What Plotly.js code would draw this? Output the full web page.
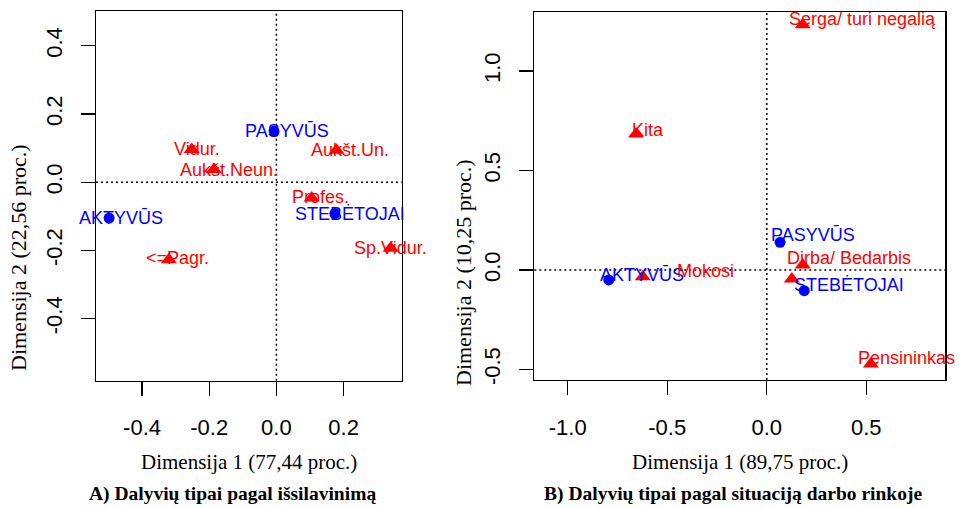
<!DOCTYPE html>
<html>
<head>
<meta charset="utf-8">
<script src="https://cdn.plot.ly/plotly-3.0.1.min.js"></script>
<style>html,body{margin:0;padding:0;background:#fff;}#chart{width:964px;height:508px;}</style>
</head>
<body>
<div id="chart"></div>
<script>
// ---- Panel A: education ----
const rowLabelsA = ["AKTYVŪS", "PASYVŪS", "STEBĖTOJAI"];
const rowXA = [-0.498, -0.007, 0.174];
const rowYA = [-0.105, 0.150, -0.092];
const colLabelsA = ["<=Pagr.", "Vidur.", "Sp.Vidur.", "Profes.", "Aukšt.Neun.", "Aukšt.Un."];
const colXA = [-0.320, -0.252, 0.340, 0.105, -0.186, 0.179];
const colYA = [-0.227, 0.096, -0.194, -0.046, 0.037, 0.094];

// ---- Panel B: labour market situation ----
const rowLabelsB = ["AKTYVŪS", "PASYVŪS", "STEBĖTOJAI"];
const rowXB = [-0.794, 0.067, 0.188];
const rowYB = [-0.050, 0.139, -0.104];
const colLabelsB = ["Dirba/ Bedarbis", "", "Mokosi", "Pensininkas", "Serga/ turi negalią", "Kita"];
const colXB = [0.181, 0.126, -0.623, 0.523, 0.181, -0.657];
const colYB = [0.025, -0.045, -0.034, -0.472, 1.233, 0.683];

// tick values / labels
const xTickValsA = [-0.4, -0.2, 0.0, 0.2];
const xTickTextA = ["-0.4", "-0.2", "0.0", "0.2"];
const yTickValsA = [-0.4, -0.2, 0.0, 0.2, 0.4];
const yTickTextA = ["-0.4", "-0.2", "0.0", "0.2", "0.4"];
const xTickValsB = [-1.0, -0.5, 0.0, 0.5];
const xTickTextB = ["-1.0", "-0.5", "0.0", "0.5"];
const yTickValsB = [-0.5, 0.0, 0.5, 1.0];
const yTickTextB = ["-0.5", "0.0", "0.5", "1.0"];

// text
const xTitleA = "Dimensija 1 (77,44 proc.)";
const yTitleA = "Dimensija 2 (22,56 proc.)";
const xTitleB = "Dimensija 1 (89,75 proc.)";
const yTitleB = "Dimensija 2 (10,25 proc.)";
const captionA = "A) Dalyvių tipai pagal išsilavinimą";
const captionB = "B) Dalyvių tipai pagal situaciją darbo rinkoje";

// label nudges in pixels (style only)
const rowShiftA = [[12, 0], [13, 0], [15, 0]];
const colShiftA = [[9, 2], [5, 0], [0, 0], [9, 1], [15, 0], [13, 0]];
const rowShiftB = [[33, 5], [33, 7], [45, 6]];
const colShiftB = [[46, 7], [0, 0], [63, 6], [36, 6], [60, 6], [12, 4]];

const W = 964, H = 508;
const BLUE = "#0000FF", RED = "#FF0000";
const SANS = "Liberation Sans, Arial, sans-serif";
const SERIF = "Liberation Serif, Times New Roman, serif";

function axisBase(extra) {
  return Object.assign({
    showgrid: false, zeroline: false, showline: true, mirror: true,
    linecolor: "#000", linewidth: 1.3,
    ticks: "outside", ticklen: 14, tickwidth: 1.3, tickcolor: "#000",
    tickfont: {family: SANS, size: 22, color: "#000"},
    tickmode: "array", fixedrange: true
  }, extra);
}

const traces = [
  {x: rowXA, y: rowYA, xaxis: "x", yaxis: "y", mode: "markers", type: "scatter",
   marker: {symbol: "circle", size: 11, color: BLUE}, cliponaxis: false, hoverinfo: "skip"},
  {x: colXA, y: colYA, xaxis: "x", yaxis: "y", mode: "markers", type: "scatter",
   marker: {symbol: "triangle-up", size: 14, color: RED}, cliponaxis: false, hoverinfo: "skip"},
  {x: rowXB, y: rowYB, xaxis: "x2", yaxis: "y2", mode: "markers", type: "scatter",
   marker: {symbol: "circle", size: 11, color: BLUE}, cliponaxis: false, hoverinfo: "skip"},
  {x: colXB, y: colYB, xaxis: "x2", yaxis: "y2", mode: "markers", type: "scatter",
   marker: {symbol: "triangle-up", size: 14, color: RED}, cliponaxis: false, hoverinfo: "skip"}
];

function labels(xs, ys, txt, shifts, color, xr, yr) {
  return txt.map((t, i) => ({
    x: xs[i], y: ys[i], xref: xr, yref: yr, text: t, showarrow: false,
    xanchor: "center", yanchor: "middle", xshift: shifts[i][0], yshift: shifts[i][1],
    font: {family: SANS, size: 18, color: color}
  })).filter(a => a.text !== "");
}

const annotations = [].concat(
  labels(rowXA, rowYA, rowLabelsA, rowShiftA, BLUE, "x", "y"),
  labels(colXA, colYA, colLabelsA, colShiftA, RED, "x", "y"),
  labels(rowXB, rowYB, rowLabelsB, rowShiftB, BLUE, "x2", "y2"),
  labels(colXB, colYB, colLabelsB, colShiftB, RED, "x2", "y2"),
  [
    {text: xTitleA, xref: "paper", yref: "paper", x: 249 / W, y: 1 - 462 / H, showarrow: false,
     xanchor: "center", yanchor: "middle", font: {family: SERIF, size: 21, color: "#000"}},
    {text: xTitleB, xref: "paper", yref: "paper", x: 740 / W, y: 1 - 462 / H, showarrow: false,
     xanchor: "center", yanchor: "middle", font: {family: SERIF, size: 21, color: "#000"}},
    {text: yTitleA, xref: "paper", yref: "paper", x: 18 / W, y: 1 - 258 / H, showarrow: false,
     textangle: -90, xanchor: "center", yanchor: "middle", font: {family: SERIF, size: 22, color: "#000"}},
    {text: yTitleB, xref: "paper", yref: "paper", x: 463 / W, y: 1 - 273 / H, showarrow: false,
     textangle: -90, xanchor: "center", yanchor: "middle", font: {family: SERIF, size: 22, color: "#000"}},
    {text: "<b>" + captionA + "</b>", xref: "paper", yref: "paper", x: 232 / W, y: 1 - 494 / H, showarrow: false,
     xanchor: "center", yanchor: "middle", font: {family: SERIF, size: 19.5, color: "#000"}},
    {text: "<b>" + captionB + "</b>", xref: "paper", yref: "paper", x: 733 / W, y: 1 - 494 / H, showarrow: false,
     xanchor: "center", yanchor: "middle", font: {family: SERIF, size: 19.5, color: "#000"}}
  ]
);

const dotLine = {dash: "2px,3px", width: 1.5, color: "#000"};
const shapes = [
  {type: "line", xref: "x", yref: "y domain", x0: 0, x1: 0, y0: 0, y1: 1, line: dotLine, layer: "below"},
  {type: "line", xref: "x domain", yref: "y", x0: 0, x1: 1, y0: 0, y1: 0, line: dotLine, layer: "below"},
  {type: "line", xref: "x2", yref: "y2 domain", x0: 0, x1: 0, y0: 0, y1: 1, line: dotLine, layer: "below"},
  {type: "line", xref: "x2 domain", yref: "y2", x0: 0, x1: 1, y0: 0, y1: 0, line: dotLine, layer: "below"}
];

const layout = {
  width: W, height: H, margin: {l: 0, r: 0, t: 0, b: 0},
  paper_bgcolor: "#fff", plot_bgcolor: "#fff", showlegend: false,
  xaxis: axisBase({domain: [96 / W, 401.7 / W], range: [-0.537, 0.373], anchor: "y",
                   tickvals: xTickValsA, ticktext: xTickTextA, ticklabelstandoff: 13}),
  yaxis: axisBase({domain: [1 - 380.7 / H, 1 - 11 / H], range: [-0.582, 0.502], anchor: "x",
                   tickvals: yTickValsA, ticktext: yTickTextA, tickangle: -90, ticklabelstandoff: 10}),
  xaxis2: axisBase({domain: [534.3 / W, 945.3 / W], range: [-1.168, 0.897], anchor: "y2",
                    tickvals: xTickValsB, ticktext: xTickTextB, ticklabelstandoff: 13}),
  yaxis2: axisBase({domain: [1 - 380 / H, 1 - 12.3 / H], range: [-0.553, 1.295], anchor: "x2",
                    tickvals: yTickValsB, ticktext: yTickTextB, tickangle: -90, ticklabelstandoff: 10}),
  annotations: annotations,
  shapes: shapes
};

Plotly.newPlot("chart", traces, layout, {displayModeBar: false, staticPlot: true});
</script>
</body>
</html>
